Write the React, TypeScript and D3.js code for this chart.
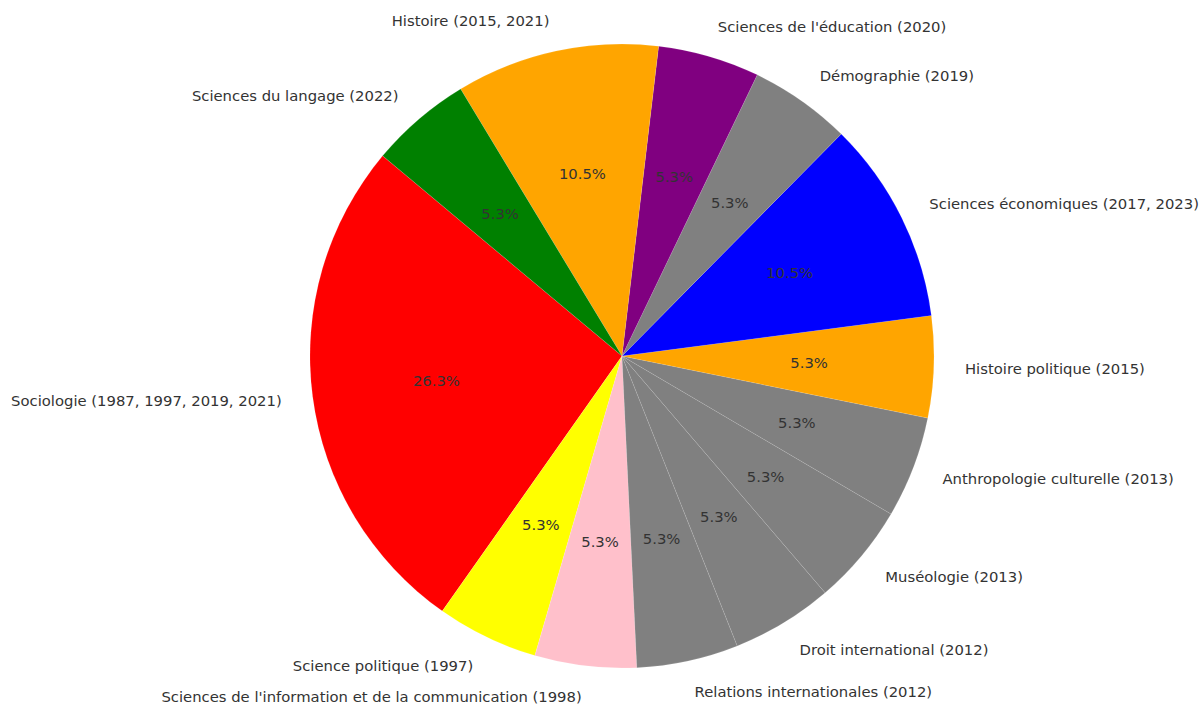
import { useEffect, useRef } from 'react';
import * as d3 from 'd3';

// slices listed counterclockwise, starting with Sociologie
const labels = [
  'Sociologie (1987, 1997, 2019, 2021)',
  'Science politique (1997)',
  "Sciences de l'information et de la communication (1998)",
  'Relations internationales (2012)',
  'Droit international (2012)',
  'Muséologie (2013)',
  'Anthropologie culturelle (2013)',
  'Histoire politique (2015)',
  'Sciences économiques (2017, 2023)',
  'Démographie (2019)',
  "Sciences de l'éducation (2020)",
  'Histoire (2015, 2021)',
  'Sciences du langage (2022)',
];
const counts = [5, 1, 1, 1, 1, 1, 1, 1, 2, 1, 1, 2, 1];
const colors = [
  'red', 'yellow', 'pink', 'gray', 'gray', 'gray', 'gray',
  'orange', 'blue', 'gray', 'purple', 'orange', 'green',
];

const W = 1202;
const H = 704;

export default function App() {
  const svgRef = useRef<SVGSVGElement>(null);

  useEffect(() => {
    if (!svgRef.current) return;
    const svg = d3.select(svgRef.current);
    svg.selectAll('*').remove();

    const cx = 622;
    const cy = 356;
    const r = 312;
    // matplotlib start angle ~140 deg ccw from 3 o'clock
    const start = ((90 - 140.1) * Math.PI) / 180;

    const data = counts.map((c, i) => ({ c, label: labels[i], color: colors[i] }));
    const total = d3.sum(counts);

    const pie = d3
      .pie<{ c: number; label: string; color: string }>()
      .sort(null)
      .value((d) => d.c)
      .startAngle(start)
      .endAngle(start - 2 * Math.PI);

    const arcs = pie(data);
    const arc = d3.arc<any>().innerRadius(0).outerRadius(r);

    const g = svg.append('g').attr('transform', `translate(${cx},${cy})`);

    g.selectAll('path.slice')
      .data(arcs)
      .join('path')
      .attr('class', 'slice')
      .attr('d', arc)
      .attr('fill', (d) => d.data.color)
      .attr('stroke', 'rgba(255,255,255,0.18)')
      .attr('stroke-width', 0.6);

    const font = 'DejaVu Sans, sans-serif';
    const fs = 14.8;

    arcs.forEach((a) => {
      const mid = (a.startAngle + a.endAngle) / 2;
      const sx = Math.sin(mid);
      const sy = -Math.cos(mid);

      g.append('text')
        .attr('x', sx * r * 1.1)
        .attr('y', sy * r * 1.1)
        .attr('text-anchor', sx > 0 ? 'start' : 'end')
        .attr('dominant-baseline', 'central')
        .attr('font-family', font)
        .attr('font-size', fs)
        .attr('fill', '#333')
        .text(a.data.label);

      g.append('text')
        .attr('x', sx * r * 0.6)
        .attr('y', sy * r * 0.6)
        .attr('text-anchor', 'middle')
        .attr('dominant-baseline', 'central')
        .attr('font-family', font)
        .attr('font-size', fs)
        .attr('fill', '#333')
        .text(`${((a.data.c / total) * 100).toFixed(1)}%`);
    });
  }, []);

  return (
    <svg
      ref={svgRef}
      width={W}
      height={H}
      style={{ position: 'absolute', left: 0, top: 0, background: '#fff' }}
    />
  );
}
